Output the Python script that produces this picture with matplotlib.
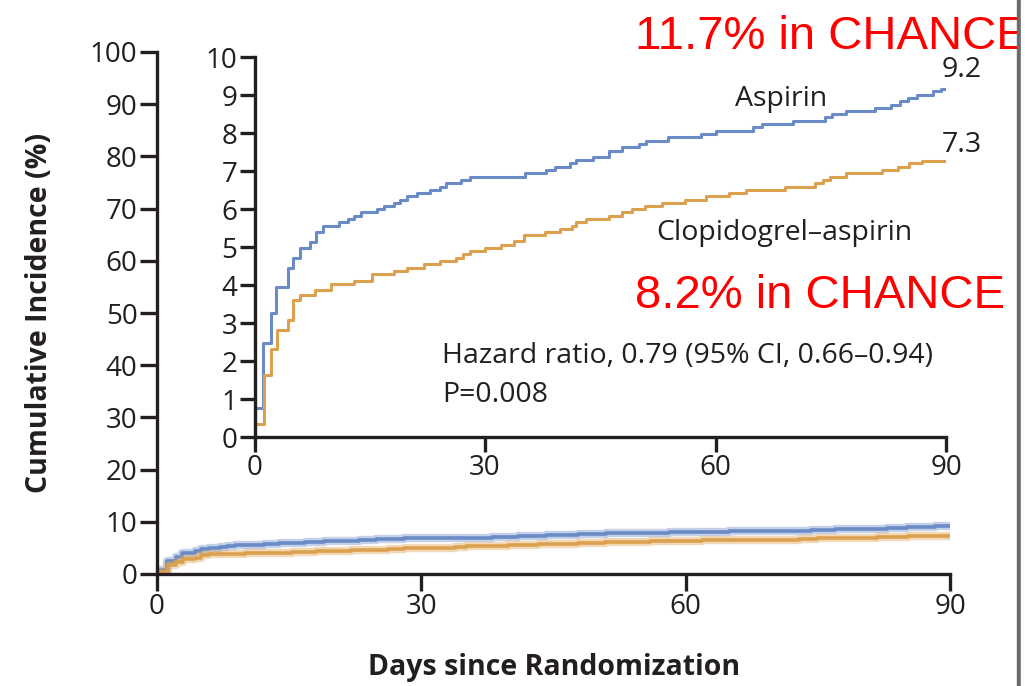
import matplotlib
matplotlib.use("Agg")
import matplotlib.pyplot as plt
from matplotlib.patches import Rectangle

plt.rcParams['font.family'] = ['Open Sans', 'DejaVu Sans']

# Kaplan-Meier step curves (days, cumulative %)
aspirin_days = [0, 0, 1.1, 2.1, 2.8, 4.3, 5.0, 5.9, 7.2, 8.0, 8.9, 11.0, 12.2, 13.0, 13.9,
                16.0, 16.8, 18.1, 19.0, 19.8, 21.1, 22.9, 24.1, 24.9, 26.9, 28.0, 35.2,
                38.0, 39.1, 41.0, 41.9, 44.1, 46.2, 47.8, 50.1, 51.0, 53.8, 58.1, 60.1,
                64.9, 66.1, 70.1, 74.2, 75.1, 77.0, 80.7, 82.9, 84.0, 85.1, 86.2, 88.3,
                89.3, 90]
aspirin_pct = [0, 0.77, 2.48, 3.26, 3.95, 4.44, 4.70, 4.97, 5.12, 5.39, 5.56, 5.65, 5.73,
               5.82, 5.91, 6.00, 6.08, 6.15, 6.24, 6.34, 6.41, 6.50, 6.59, 6.68, 6.76,
               6.85, 6.94, 7.03, 7.11, 7.20, 7.29, 7.38, 7.53, 7.62, 7.71, 7.80, 7.89,
               7.97, 8.06, 8.15, 8.24, 8.32, 8.41, 8.50, 8.57, 8.66, 8.74, 8.83, 8.92,
               9.01, 9.10, 9.17, 9.17]

combo_days = [0, 0, 1.2, 2.1, 2.9, 4.3, 5.0, 5.9, 7.9, 10.0, 13.0, 15.3, 18.1, 19.8, 22.0,
              24.1, 26.2, 27.1, 28.0, 30.0, 32.1, 33.8, 35.1, 37.8, 39.8, 41.3, 41.9,
              43.2, 46.2, 47.8, 49.1, 50.8, 53.0, 56.0, 58.8, 61.8, 64.0, 69.0, 72.9,
              74.0, 74.9, 77.0, 81.7, 83.8, 85.2, 86.9, 90]
combo_pct = [0, 0.33, 1.63, 2.31, 2.82, 3.08, 3.61, 3.75, 3.87, 4.03, 4.11, 4.29, 4.38,
             4.45, 4.54, 4.64, 4.72, 4.81, 4.89, 4.97, 5.06, 5.15, 5.32, 5.39, 5.47,
             5.56, 5.65, 5.74, 5.82, 5.91, 6.00, 6.09, 6.16, 6.25, 6.35, 6.42, 6.49,
             6.59, 6.68, 6.76, 6.85, 6.94, 7.03, 7.11, 7.20, 7.27, 7.27]

x_ticks = [0, 30, 60, 90]
main_y_ticks = [0, 10, 20, 30, 40, 50, 60, 70, 80, 90, 100]
inset_y_ticks = [0, 1, 2, 3, 4, 5, 6, 7, 8, 9, 10]

BLUE = '#6a8bc6'
ORANGE = '#dca14e'
INK = '#231f20'
W, H = 1025, 686

fig = plt.figure(figsize=(W / 100, H / 100), dpi=100)


def px_axes(x0, x1, y_top, y_bot):
    return fig.add_axes([x0 / W, 1 - y_bot / H, (x1 - x0) / W, (y_bot - y_top) / H])


def style(ax, ticklen):
    for side in ['top', 'right']:
        ax.spines[side].set_visible(False)
    for side in ['left', 'bottom']:
        ax.spines[side].set_linewidth(2.4)
        ax.spines[side].set_color(INK)
    ax.tick_params(direction='out', length=ticklen, width=2.4, color=INK,
                   labelsize=20, labelcolor=INK, pad=2)
    ax.set_xticks(x_ticks)
    ax.set_xlim(0, 90)


# main axes, 0-100 %
ax = px_axes(157, 950, 52, 574)
style(ax, 12)
ax.set_ylim(0, 100)
ax.set_yticks(main_y_ticks)
ax.patch.set_alpha(0)
for d, p, c in [(aspirin_days, aspirin_pct, BLUE), (combo_days, combo_pct, ORANGE)]:
    ax.step(d, p, where='post', color=c, lw=6, alpha=0.4, solid_capstyle='butt')
    ax.step(d, p, where='post', color=c, lw=2.6)

# inset, 0-10 %
axi = px_axes(254.5, 946, 57, 437)
style(axi, 10.5)
axi.set_ylim(0, 10)
axi.set_yticks(inset_y_ticks)
axi.patch.set_alpha(0)
axi.step(aspirin_days, aspirin_pct, where='post', color=BLUE, lw=2.2)
axi.step(combo_days, combo_pct, where='post', color=ORANGE, lw=2.2)

tk = dict(fontsize=20.5, color=INK, clip_on=False)
axi.text(92.1, 9.66, '9.2', ha='center', va='center', **tk)
axi.text(92.1, 7.68, '7.3', ha='center', va='center', **tk)
axi.text(68.6, 8.71, 'Aspirin', ha='center', va='baseline', **tk)
axi.text(69.0, 5.18, 'Clopidogrel\u2013aspirin', ha='center', va='baseline', **tk)
axi.text(24.4, 1.95, 'Hazard ratio, 0.79 (95% CI, 0.66\u20130.94)', ha='left',
         va='baseline', **tk)
axi.text(24.4, 0.93, 'P=0.008', ha='left', va='baseline', **tk)

fig.text(40 / W, 1 - 313 / H, 'Cumulative Incidence (%)', rotation=90, ha='center',
         va='center', fontsize=20.5, fontweight='bold', color=INK)
fig.text(554 / W, 1 - 667 / H, 'Days since Randomization', ha='center', va='center',
         fontsize=20.5, fontweight='bold', color=INK)

red = dict(fontsize=34, color='#ff0000', family=['Liberation Sans', 'DejaVu Sans'])
fig.text(635 / W, 1 - 49 / H, '11.7% in CHANCE', ha='left', va='baseline', **red)
fig.text(635 / W, 1 - 308 / H, '8.2% in CHANCE', ha='left', va='baseline', **red)

# grey frame edge on the right
fig.add_artist(Rectangle((1016.5 / W, 0), 4.5 / W, 1, transform=fig.transFigure,
                         color='#6b6b6b', zorder=10))
fig.add_artist(Rectangle((1021 / W, 0), 4 / W, 1, transform=fig.transFigure,
                         color='white', zorder=10))

fig.savefig('out.png', dpi=100)
